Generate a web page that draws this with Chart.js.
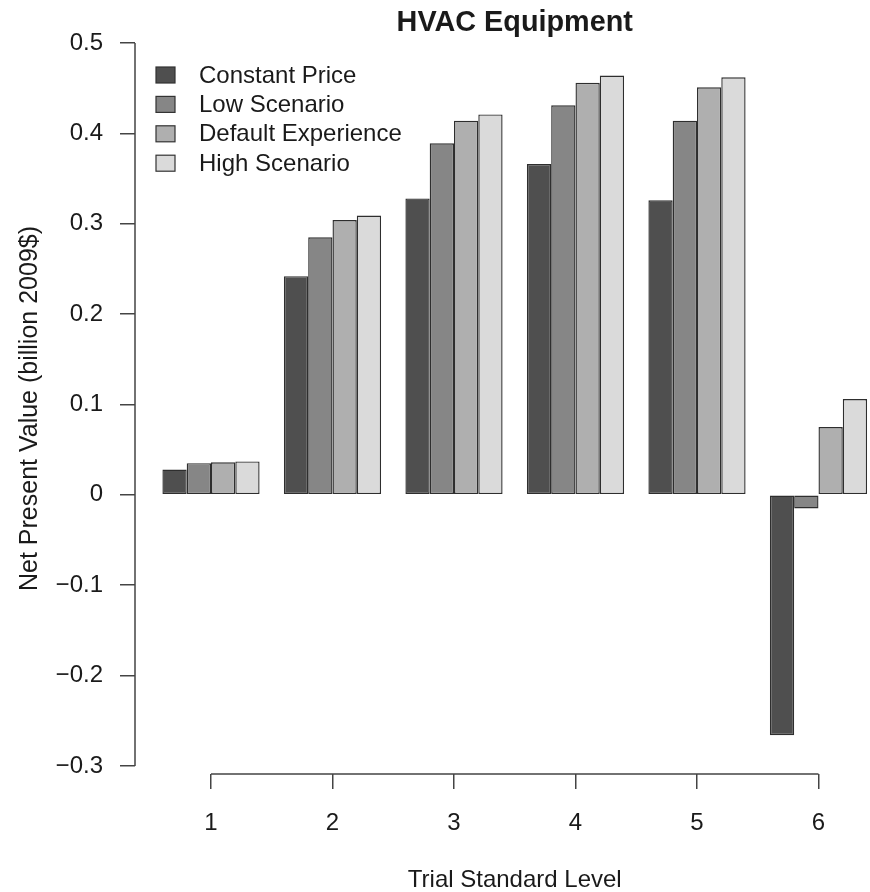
<!DOCTYPE html>
<html>
<head>
<meta charset="utf-8">
<script src="https://cdn.jsdelivr.net/npm/chart.js@4"></script>
<style>
  html, body { margin: 0; padding: 0; background: #fff; }
  #wrap { width: 870px; height: 892px; position: relative; }
</style>
</head>
<body>
<div id="wrap"><canvas id="npvChart"></canvas></div>
<script>
const levels = [1, 2, 3, 4, 5, 6];
const seriesNames = ['Constant Price', 'Low Scenario', 'Default Experience', 'High Scenario'];
const constantPrice = [0.028, 0.242, 0.328, 0.366, 0.326, -0.266];
const lowScenario = [0.035, 0.285, 0.389, 0.431, 0.414, -0.015];
const defaultExperience = [0.036, 0.304, 0.414, 0.456, 0.451, 0.075];
const highScenario = [0.037, 0.309, 0.421, 0.464, 0.462, 0.106];
const yTicks = [-0.3, -0.2, -0.1, 0, 0.1, 0.2, 0.3, 0.4, 0.5];
const yTickLabels = ['\u22120.3', '\u22120.2', '\u22120.1', '0', '0.1', '0.2', '0.3', '0.4', '0.5'];
const xTickLabels = ['1', '2', '3', '4', '5', '6'];
const barColors = ['#4f4f4f', '#868686', '#afafaf', '#dadada'];

const FONT = "'Liberation Sans', Arial, Helvetica, sans-serif";
const TEXT = '#1a1a1a';
const AXIS = '#444';

// titles, legend and the detached R-style axis lines
const rStyle = {
  id: 'rStyle',
  afterDraw(chart) {
    const ctx = chart.ctx;
    const x = chart.scales.x;
    const y = chart.scales.y;
    const area = chart.chartArea;
    ctx.save();
    ctx.strokeStyle = AXIS;
    ctx.lineWidth = 1.5;
    ctx.beginPath();
    ctx.moveTo(area.left, y.getPixelForValue(yTicks[0]));
    ctx.lineTo(area.left, y.getPixelForValue(yTicks[yTicks.length - 1]));
    ctx.moveTo(x.getPixelForValue(levels[0]), area.bottom);
    ctx.lineTo(x.getPixelForValue(levels[levels.length - 1]), area.bottom);
    ctx.stroke();

    const mid = x.getPixelForValue(3.5);
    ctx.fillStyle = TEXT;
    ctx.textAlign = 'center';
    ctx.textBaseline = 'alphabetic';
    ctx.font = 'bold 28.8px ' + FONT;
    ctx.fillText('HVAC Equipment', mid, 31);
    ctx.font = '24px ' + FONT;
    ctx.fillText('Trial Standard Level', mid, 887);

    // legend
    ctx.textAlign = 'left';
    ctx.textBaseline = 'middle';
    chart.data.datasets.forEach((ds, i) => {
      const cy = 75 + i * 29.4;
      ctx.fillStyle = ds.backgroundColor;
      ctx.fillRect(156, cy - 8, 19, 16);
      ctx.strokeStyle = '#333';
      ctx.lineWidth = 1.2;
      ctx.strokeRect(156, cy - 8, 19, 16);
      ctx.fillStyle = TEXT;
      ctx.fillText(ds.label, 199, cy + 1);
    });
    ctx.restore();
  }
};

const seriesValues = [constantPrice, lowScenario, defaultExperience, highScenario];

new Chart(document.getElementById('npvChart'), {
  type: 'bar',
  data: {
    labels: levels,
    datasets: seriesNames.map((name, i) => ({
      label: name,
      data: seriesValues[i],
      backgroundColor: barColors[i],
      borderColor: '#2e2e2e',
      borderWidth: 1.4,
      borderSkipped: false,
      categoryPercentage: 0.8,
      barPercentage: 1.0
    }))
  },
  options: {
    responsive: true,
    maintainAspectRatio: false,
    animation: false,
    layout: { padding: { top: 43, left: 0, right: 0, bottom: 0 } },
    plugins: {
      legend: { display: false },
      title: { display: false },
      tooltip: { enabled: false }
    },
    scales: {
      x: {
        type: 'linear',
        offset: false,
        min: 0.3745,
        max: 6.424,
        afterFit(scale) { scale.height = 118; },
        afterBuildTicks(scale) { scale.ticks = levels.map(v => ({ value: v })); },
        border: { display: false },
        grid: { offset: false, drawOnChartArea: false, drawTicks: true, tickLength: 15, color: AXIS, lineWidth: 1.5 },
        ticks: {
          padding: 20,
          color: TEXT,
          font: { family: FONT, size: 24 },
          maxRotation: 0,
          callback: (v) => xTickLabels[levels.indexOf(v)]
        }
      },
      y: {
        min: -0.3089,
        max: 0.5,
        afterFit(scale) { scale.width = 135; },
        afterBuildTicks(scale) { scale.ticks = yTicks.map(v => ({ value: v })); },
        border: { display: false },
        grid: { drawOnChartArea: false, drawTicks: true, tickLength: 15, color: AXIS, lineWidth: 1.5 },
        ticks: {
          padding: 17,
          color: TEXT,
          font: { family: FONT, size: 24 },
          callback: (v) => {
            const i = yTicks.findIndex(t => Math.abs(t - v) < 1e-9);
            return i >= 0 ? yTickLabels[i] : '';
          }
        },
        title: {
          display: true,
          text: 'Net Present Value (billion 2009$)',
          color: TEXT,
          font: { family: FONT, size: 25 },
          padding: { top: 15, bottom: 0 }
        }
      }
    }
  },
  plugins: [rStyle]
});
</script>
</body>
</html>
